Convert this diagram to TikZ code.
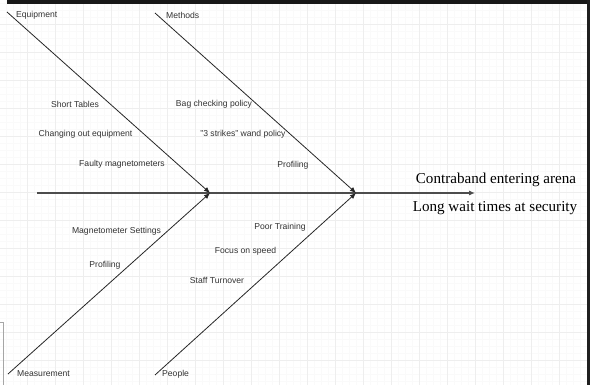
\documentclass[tikz,border=0pt]{standalone}
\usepackage{fontspec}
\setmainfont{Liberation Serif}
\setsansfont{Liberation Sans}
\usetikzlibrary{arrows.meta}

\begin{document}
\begin{tikzpicture}[x=1pt, y=-1pt, font=\sffamily\fontsize{8.6}{10}\selectfont,
  bone/.style={draw=black!85, line width=0.8pt, -{Latex[length=6pt,width=5pt]}},
  cause/.style={inner sep=0pt, text=black!80},
  effect/.style={font=\rmfamily\fontsize{15.1}{17}\selectfont, inner sep=0pt}]
	\useasboundingbox (0,0) rectangle (590,385);
	\fill[white] (0,0) rectangle (590,385);
	\foreach \x in {6,13,...,590} \draw[gray!4, line width=0.4pt] (\x,0) -- (\x,385);
	\foreach \y in {3,10,...,385} \draw[gray!4, line width=0.4pt] (0,\y) -- (590,\y);
	\foreach \x in {27,55,...,590} \draw[gray!13, line width=0.5pt] (\x,0) -- (\x,385);
	\foreach \y in {24,52,...,385} \draw[gray!13, line width=0.5pt] (0,\y) -- (590,\y);
	\fill[black!90] (7,0) rectangle (590,4);
	\fill[black!88] (587,0) rectangle (590,385);
	\draw[gray!70, line width=0.8pt] (0,322) -- (3,322) -- (3,385);
	% spine and bones
	\coordinate (tail) at (37,193);
	\coordinate (head) at (475,193);
	\coordinate (j1) at (210,193);
	\coordinate (j2) at (356,193);
	\coordinate (equip) at (7,12);
	\coordinate (meth) at (155,13);
	\coordinate (meas) at (8,374);
	\coordinate (peop) at (155,375);
	\draw[bone, draw=black!70, line width=1.1pt] (tail) -- (head);
	\draw[bone] (equip) -- (j1);
	\draw[bone] (meas) -- (j1);
	\draw[bone] (meth) -- (j2);
	\draw[bone] (peop) -- (j2);
	% categories
	\node[cause, anchor=west] (equiplbl) at (16,15) {Equipment};
	\node[cause, anchor=west] (methlbl) at (166,15) {Methods};
	\node[cause, anchor=west] (measlbl) at (17,374) {Measurement};
	\node[cause, anchor=west] (peoplbl) at (162,374) {People};
	% causes
	\node[cause] (tables) at (75,104) {Short Tables};
	\node[cause] (changing) at (85.5,134) {Changing out equipment};
	\node[cause] (faulty) at (122,164) {Faulty magnetometers};
	\node[cause] (bag) at (214,104) {Bag checking policy};
	\node[cause] (strikes) at (243,134) {"3 strikes" wand policy};
	\node[cause] (profmeth) at (293,165) {Profiling};
	\node[cause] (settings) at (116.5,231) {Magnetometer Settings};
	\node[cause] (profmeas) at (105,265) {Profiling};
	\node[cause] (training) at (280,227) {Poor Training};
	\node[cause] (speed) at (245.5,251) {Focus on speed};
	\node[cause] (turnover) at (217,280) {Staff Turnover};
	% effects
	\node[effect] (contraband) at (496,180) {Contraband entering arena};
	\node[effect] (wait) at (495,208) {Long wait times at security};
\end{tikzpicture}
\end{document}
